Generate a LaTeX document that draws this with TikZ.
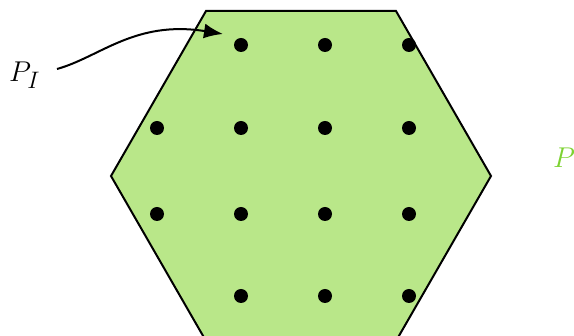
\documentclass[tikz,border=0pt]{standalone}
\usepackage{graphicx}
\usetikzlibrary{arrows.meta}
\definecolor{hexfill}{RGB}{185,231,137}
\definecolor{plabel}{RGB}{125,210,50}
\begin{document}
\begin{tikzpicture}[x=1pt,y=-1pt,
  dot/.style={circle,fill=black,inner sep=0pt,minimum size=14pt},
  lbl/.style={inner sep=0pt,font=\fontsize{24.88}{30}\selectfont}]
\useasboundingbox (0,0) rectangle (574,336);
\begin{scope}
\clip (0,0) rectangle (574,336);
\draw[line width=2pt,fill=hexfill,line join=miter]
  (206,11) -- (396,11) -- (491,176) -- (396,341) -- (206,341) -- (111,176) -- cycle;
\end{scope}
\foreach \x/\n in {241/2,325/3,409/4}{
  \node[dot] (d1\n) at (\x,45) {};
  \node[dot] (d4\n) at (\x,296) {};
}
\foreach \x/\n in {157/1,241/2,325/3,409/4}{
  \node[dot] (d2\n) at (\x,128) {};
  \node[dot] (d3\n) at (\x,214) {};
}
\node[lbl,anchor=base west] (PI) at (9,82) {\scalebox{1.15}{$P_I$}};
\node[lbl,anchor=base west,text=plabel] (P) at (553,168) {\scalebox{1.15}{$P$}};
\coordinate (tip) at (223,34);
\draw[line width=2pt,-{Latex[length=19pt,width=15pt]}]
  (57,69) .. controls (100,57) and (135,20) .. (tip);
\end{tikzpicture}
\end{document}
